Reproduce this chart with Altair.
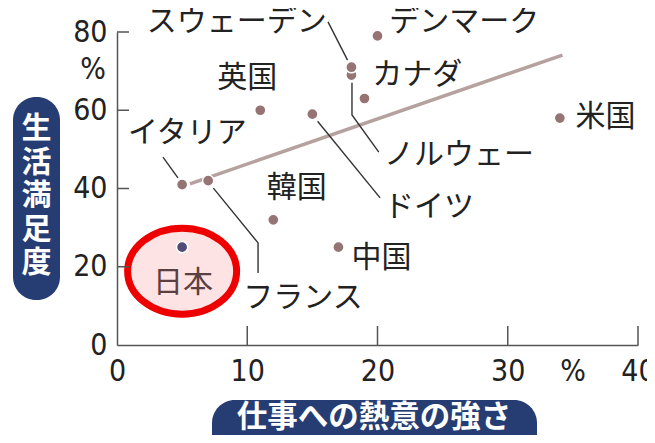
import altair as alt
import pandas as pd

# ---- data ----
countries = ["デンマーク", "ノルウェー", "スウェーデン", "カナダ", "英国", "ドイツ",
             "米国", "イタリア", "フランス", "韓国", "中国", "日本"]
engagement = [20, 18, 18, 19, 11, 15, 34, 5, 7, 12, 17, 5]        # 仕事への熱意の強さ (%)
satisfaction = [79, 69, 71, 63, 60, 59, 58, 41, 42, 32, 25, 25]   # 生活満足度 (%)

trend_x = [5.6, 34.2]
trend_y = [41.2, 74.1]

x_ticks = [0, 10, 20, 30, 40]
y_ticks = [0, 20, 40, 60, 80]

# ---- label layout (data units) ----
label_layout = {
    "スウェーデン": (9.2, 82.6, "center"),
    "デンマーク": (20.9, 82.6, "left"),
    "カナダ": (19.6, 69.0, "left"),
    "英国": (10.0, 68.2, "center"),
    "イタリア": (5.4, 54.2, "center"),
    "米国": (35.2, 58.3, "left"),
    "ノルウェー": (20.5, 48.6, "left"),
    "ドイツ": (20.5, 35.3, "left"),
    "韓国": (13.8, 40.1, "center"),
    "中国": (18.0, 22.2, "left"),
    "フランス": (9.7, 12.0, "left"),
    "日本": (5.07, 15.8, "center"),
}

# leader lines (data units)
leaders = {
    "スウェーデン": [(16.2, 82.6), (17.7, 72.8)],
    "ノルウェー": [(18.04, 67.0), (18.04, 58.8), (20.1, 49.3)],
    "ドイツ": [(15.4, 57.2), (20.2, 37.6)],
    "イタリア": [(3.53, 48.0), (4.68, 42.7)],
    "フランス": [(7.4, 40.1), (10.83, 26.1), (10.83, 18.4)],
}

df = pd.DataFrame({"country": countries, "x": engagement, "y": satisfaction})
df["is_japan"] = df["country"] == "日本"

lab = pd.DataFrame([
    {"country": k, "lx": v[0], "ly": v[1], "align": v[2]} for k, v in label_layout.items()
])

lead_rows = []
for name, pts in leaders.items():
    for i, (px, py) in enumerate(pts):
        lead_rows.append({"name": name, "order": i, "x": px, "y": py})
lead = pd.DataFrame(lead_rows)

trend = pd.DataFrame({"x": trend_x, "y": trend_y})
yt = pd.DataFrame({"v": y_ticks[1:]})
xt = pd.DataFrame({"v": x_ticks[1:]})

XS = alt.Scale(domain=[0, 40], nice=False, zero=False)
YS = alt.Scale(domain=[0, 80], nice=False, zero=False)

NUM_FONT = ("Liberation Sans Narrow, Noto Sans Condensed, DejaVu Sans Condensed, "
            "Roboto Condensed, Roboto, sans-serif")
JP_FONT = "Noto Sans CJK JP, sans-serif"
NAVY = "#263d73"
AXIS_COL = "#555555"
NUM_SIZE = 30

XA = alt.Axis(values=x_ticks, title=None, grid=False, ticks=False, domainColor=AXIS_COL,
              domainWidth=1.5, labelFont=NUM_FONT, labelFontSize=NUM_SIZE, labelColor="#222",
              labelPadding=11, labelFlush=False, labelOverlap=False)
YA = alt.Axis(values=y_ticks, title=None, grid=False, ticks=False, domainColor=AXIS_COL,
              domainWidth=1.5, labelFont=NUM_FONT, labelFontSize=NUM_SIZE, labelColor="#222",
              labelPadding=10, labelFlush=False, labelOverlap=False)


def X(f):
    return alt.X(f, scale=XS, axis=XA)


def Y(f):
    return alt.Y(f, scale=YS, axis=YA)


W, H = 521, 313
one = pd.DataFrame({"a": [0]})

# y-axis pill title
ypill = alt.Chart(one).mark_rect(color=NAVY, cornerRadius=23).encode(
    x=alt.value(-104), x2=alt.value(-57), y=alt.value(65), y2=alt.value(268))

ytitle = alt.Chart(one).mark_text(
    text="生\n活\n満\n足\n度", lineBreak="\n", font=JP_FONT, fontWeight="bold",
    fontSize=30, lineHeight=33.5, color="white", align="center", baseline="top"
).encode(x=alt.value(-80.5), y=alt.value(82))

# x-axis pill title
xpill = alt.Chart(one).mark_rect(color=NAVY, cornerRadius=23).encode(
    x=alt.value(95), x2=alt.value(420), y=alt.value(368), y2=alt.value(440))

xtitle = alt.Chart(one).mark_text(
    text="仕事への熱意の強さ", font=JP_FONT, fontWeight="bold",
    fontSize=30.5, color="white", align="center", baseline="middle"
).encode(x=alt.value(257), y=alt.value(386))

# red ellipse around Japan
ellipse_path = "M -1.267 0 A 1.267 1 0 1 0 1.267 0 A 1.267 1 0 1 0 -1.267 0 Z"
ellipse = alt.Chart(df[df["is_japan"]]).mark_point(
    shape=ellipse_path, size=7396, filled=False, fill="#fde3e3", fillOpacity=1,
    stroke="#ee0000", strokeWidth=7, opacity=1, yOffset=24
).encode(x=X("x:Q"), y=Y("y:Q"))

trend_line = alt.Chart(trend).mark_line(color="#b5a19e", strokeWidth=3.5).encode(
    x=X("x:Q"), y=Y("y:Q"))

leader_lines = alt.Chart(lead).mark_line(color="#333333", strokeWidth=1.4).encode(
    x=X("x:Q"), y=Y("y:Q"), detail="name:N", order="order:Q")

points = alt.Chart(df).mark_circle(size=125, opacity=1, stroke="white", strokeWidth=1.5).encode(
    x=X("x:Q"), y=Y("y:Q"),
    color=alt.condition(alt.datum.is_japan, alt.value("#4f4a78"), alt.value("#967473")),
)

ytick_marks = alt.Chart(yt).mark_rule(color=AXIS_COL, strokeWidth=1.5).encode(
    y=Y("v:Q"), x=alt.value(0), x2=alt.value(12))
xtick_marks = alt.Chart(xt).mark_rule(color=AXIS_COL, strokeWidth=1.5).encode(
    x=X("v:Q"), y=alt.value(294), y2=alt.value(313))

pct_y = alt.Chart(one).mark_text(
    text="%", font=NUM_FONT, fontSize=30, color="#222", align="center", baseline="middle"
).encode(x=alt.value(-24), y=alt.value(38))
pct_x = alt.Chart(one).mark_text(
    text="%", font=NUM_FONT, fontSize=30, color="#222", align="center", baseline="middle"
).encode(x=alt.value(456), y=alt.value(340))


def label_layer(align):
    sub = lab[lab["align"] == align]
    return alt.Chart(sub).mark_text(
        font=JP_FONT, fontSize=30, align=align, baseline="middle"
    ).encode(
        x=X("lx:Q"), y=Y("ly:Q"),
        text="country:N",
        color=alt.condition(alt.datum.country == "日本", alt.value("#5a4040"), alt.value("#222222")),
    )


chart = alt.layer(
    ypill, ytitle, xpill, xtitle, ellipse, trend_line, leader_lines,
    ytick_marks, xtick_marks, points, pct_y, pct_x,
    label_layer("left"), label_layer("center"),
).properties(
    width=W, height=H,
    autosize=alt.AutoSizeParams(type="none"),
    padding={"left": 109, "top": 24, "right": 9, "bottom": 90},
    background="white",
).configure_view(stroke=None)

chart.save("out.html", embed_options={"renderer": "svg", "actions": False})
